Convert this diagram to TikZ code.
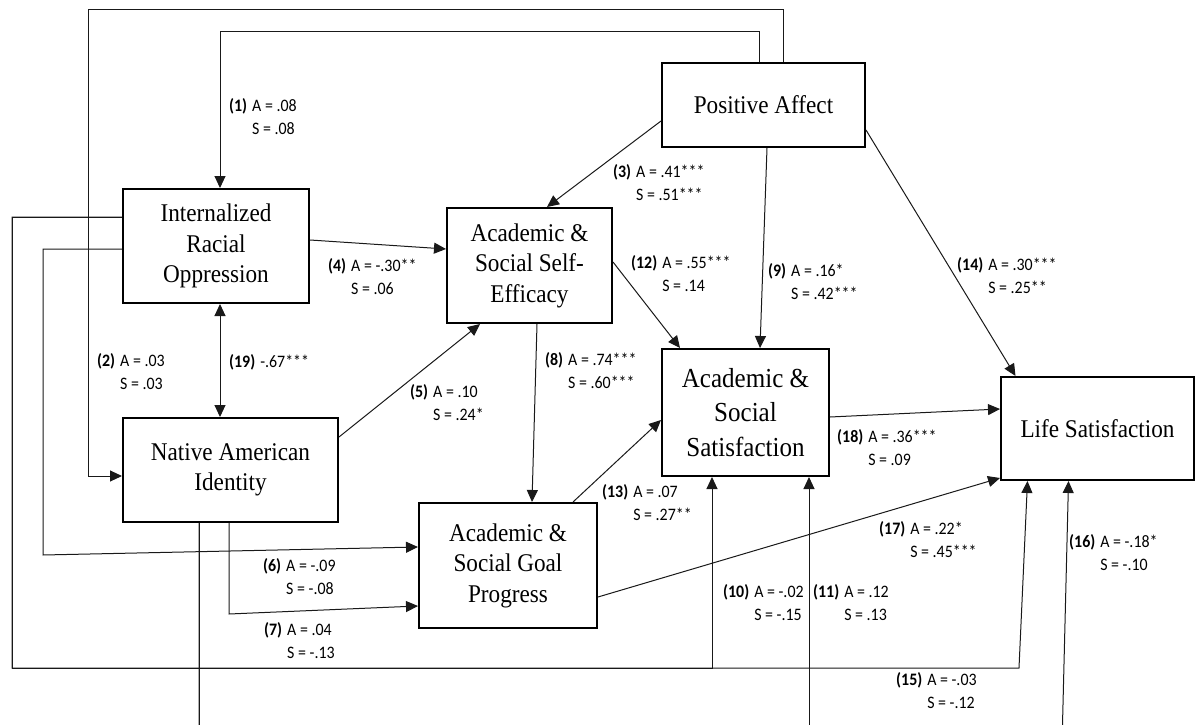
\documentclass[tikz,border=0pt]{standalone}
\usepackage{fontspec}
\setmainfont{Liberation Serif}[FakeStretch=0.91]
\newfontfamily\coeffont{Carlito}[FakeStretch=0.91]
\usetikzlibrary{arrows.meta, positioning}
\definecolor{boxline}{RGB}{0,0,0}
\definecolor{pathline}{RGB}{25,25,25}
\tikzstyle{factor} = [rectangle, draw=boxline, line width=2pt, inner sep=0pt, align=center, font=\fontsize{25.5}{30.5}\selectfont]
\tikzstyle{outcome} = [factor, font=\fontsize{27.5}{34.5}\selectfont]
\tikzstyle{arrow} = [draw=pathline, line width=1pt, -{Triangle[length=12pt, width=11pt]}]
\tikzstyle{twoway} = [arrow, {Triangle[length=12pt, width=11pt]}-{Triangle[length=12pt, width=11pt]}]
\tikzstyle{coef} = [inner sep=0pt, anchor=west, font=\coeffont\fontsize{17.5}{23}\selectfont]
\newcommand{\pathcoef}[3]{\begin{tabular}{@{}l@{\hspace{5pt}}l@{}}\textbf{(#1)} & A = #2\\ & S = #3\end{tabular}}

\begin{document}
\begin{tikzpicture}[x=1pt, y=-1pt]
\useasboundingbox (0,0) rectangle (1195,725);
\clip (0,0) rectangle (1195,725);

% Predictors
\node (pa) [factor, minimum width=203pt, minimum height=84pt] at (763.5,105) {Positive Affect};
\node (iro) [factor, minimum width=186pt, minimum height=114pt] at (216,246) {Internalized\\Racial\\Oppression};
\node (nai) [factor, minimum width=215pt, minimum height=104pt] at (230.5,470) {Native American\\Identity};

% Mediators
\node (se) [factor, minimum width=165pt, minimum height=115pt] at (529.5,265.5) {Academic \&\\Social Self-\\Efficacy};
\node (gp) [factor, minimum width=178pt, minimum height=125pt] at (508,565.5) {Academic \&\\Social Goal\\Progress};
\node (ass) [outcome, minimum width=167pt, minimum height=127pt] at (745.5,412.5) {Academic \&\\Social\\Satisfaction};

% Outcome
\node (ls) [factor, minimum width=193pt, minimum height=103pt] at (1097.5,428.5) {Life Satisfaction};

% Arrows
\draw [arrow] ([xshift=-4.5pt]pa.north) |- (220,32) -- ([xshift=4pt]iro.north);
\draw [arrow] ([xshift=19.5pt]pa.north) |- (88,10) |- ([yshift=-6pt]nai.west);
\draw [arrow] ([yshift=-16pt]pa.west) -- ([xshift=17.5pt]se.north);
\draw [arrow] ([yshift=6pt]iro.east) -- ([yshift=16.5pt]se.west);
\draw [arrow] ([yshift=33pt]nai.east) -- ([xshift=-49.5pt]se.south);
\draw [arrow] ([yshift=-3pt]iro.west) -| (43,555) -- ([yshift=18.5pt]gp.west);
\draw [arrow] ([xshift=-1.5pt]nai.south) -- (229,614) -- ([yshift=-40.5pt]gp.west);
\draw [arrow] ([xshift=7.5pt]se.south) -- ([xshift=24pt]gp.north);
\draw [arrow] ([xshift=3.5pt]pa.south) -- ([xshift=14.5pt]ass.north);
\draw [arrow] ([yshift=29pt]iro.west) -| (12,668) -| ([xshift=-33.5pt]ass.south);
\draw [arrow] ([xshift=-31.5pt]nai.south) |- (809,745) -- ([xshift=63.5pt]ass.south);
\draw [arrow] ([yshift=3.5pt]se.east) -- ([xshift=-65.5pt]ass.north);
\draw [arrow] ([xshift=65pt]gp.north) -- ([yshift=-7.5pt]ass.west);
\draw [arrow] ([yshift=-25pt]pa.east) -- ([xshift=-82pt]ls.north);
\draw [arrow] ([yshift=29pt]iro.west) -| (12,668) -- (1019,668) -- ([xshift=-70pt]ls.south);
\draw [arrow] ([xshift=-31.5pt]nai.south) |- (1062,745) -- ([xshift=-29pt]ls.south);
\draw [arrow] ([yshift=-31.5pt]gp.east) -- ([yshift=3pt]ls.south west);
\draw [arrow] ([yshift=-4.5pt]ass.east) -- ([yshift=19.5pt]ls.west);
\draw [twoway] ([xshift=4pt]iro.south) -- ([xshift=-10.5pt]nai.north);

% Path coefficients
\node (c1) [coef] at (229,118.5) {\pathcoef{1}{.08}{.08}};
\node (c2) [coef] at (97,373) {\pathcoef{2}{.03}{.03}};
\node (c3) [coef] at (613,184) {\pathcoef{3}{.41***}{.51***}};
\node (c4) [coef] at (328,278) {\pathcoef{4}{-.30**}{.06}};
\node (c5) [coef] at (410,404) {\pathcoef{5}{.10}{.24*}};
\node (c6) [coef] at (263,578.5) {\pathcoef{6}{-.09}{-.08}};
\node (c7) [coef] at (264,642) {\pathcoef{7}{.04}{-.13}};
\node (c8) [coef] at (545,372.5) {\pathcoef{8}{.74***}{.60***}};
\node (c9) [coef] at (768,283.5) {\pathcoef{9}{.16*}{.42***}};
\node (c10) [coef] at (723,604) {\pathcoef{10}{-.02}{-.15}};
\node (c11) [coef] at (813,604) {\pathcoef{11}{.12}{.13}};
\node (c12) [coef] at (631,275.5) {\pathcoef{12}{.55***}{.14}};
\node (c13) [coef] at (602,504) {\pathcoef{13}{.07}{.27**}};
\node (c14) [coef] at (957,277) {\pathcoef{14}{.30***}{.25**}};
\node (c15) [coef] at (896,692.5) {\pathcoef{15}{-.03}{-.12}};
\node (c16) [coef] at (1069,554.5) {\pathcoef{16}{-.18*}{-.10}};
\node (c17) [coef] at (879,541) {\pathcoef{17}{.22*}{.45***}};
\node (c18) [coef] at (837,449) {\pathcoef{18}{.36***}{.09}};
\node (c19) [coef] at (229,362) {\textbf{(19)}\hspace{5pt}-.67***};

\end{tikzpicture}
\end{document}
